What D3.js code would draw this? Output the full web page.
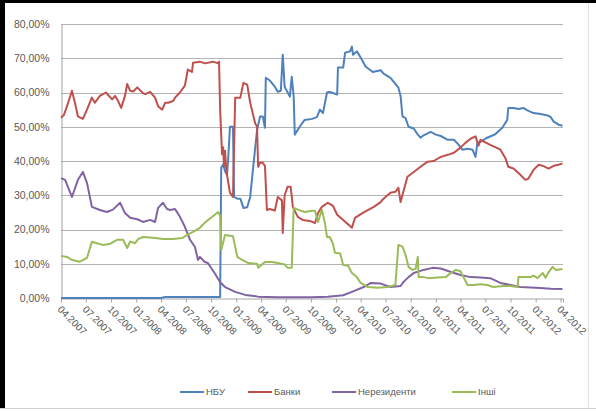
<!DOCTYPE html>
<html>
<head>
<meta charset="utf-8">
<script src="https://cdn.jsdelivr.net/npm/d3@7"></script>
<style>
  html, body { margin: 0; padding: 0; background: #fff; }
  svg { display: block; }
  text { font-family: "Liberation Sans", Arial, sans-serif; fill: #595959; }
</style>
</head>
<body>
<svg id="chart" width="596" height="411"></svg>
<script>
// Структура власників ОВДП, частка у %
const seriesNames = ["НБУ", "Банки", "Нерезиденти", "Інші"];
const seriesColors = ["#4F81BD", "#C0504D", "#8064A2", "#9BBB59"];

const yTicks = [0, 10, 20, 30, 40, 50, 60, 70, 80];
const xTickLabels = ["04.2007","07.2007","10.2007","01.2008","04.2008","07.2008","10.2008",
  "01.2009","04.2009","07.2009","10.2009","01.2010","04.2010","07.2010","10.2010",
  "01.2011","04.2011","07.2011","10.2011","01.2012","04.2012"];

const nbu = [
  ["2007-04-01",0],["2008-04-01",0],["2008-04-16",0.3],["2008-11-03",0.3],["2008-11-07",38],
  ["2008-11-14",39],["2008-11-21",37],["2008-11-28",36],["2008-12-02",40],["2008-12-09",50],
  ["2008-12-20",50],["2008-12-24",29.5],["2009-01-05",29],["2009-01-16",29],["2009-01-27",26.3],
  ["2009-02-10",26.5],["2009-02-21",29.5],["2009-03-04",38.3],["2009-03-18",49],["2009-03-29",53],
  ["2009-04-08",53],["2009-04-16",49.7],["2009-04-19",64.3],["2009-05-04",63.5],["2009-05-22",61.7],
  ["2009-06-02",60.2],["2009-06-13",60.5],["2009-06-20",71],["2009-06-27",61.7],["2009-07-16",58.8],
  ["2009-07-23",64.6],["2009-07-30",58.8],["2009-08-03",47.7],["2009-08-21",50],["2009-09-08",52],
  ["2009-10-05",52.3],["2009-10-23",52.8],["2009-11-03",55],["2009-11-14",54],["2009-11-29",60],
  ["2009-12-09",60.2],["2010-01-05",59.4],["2010-01-08",67.3],["2010-01-27",67.3],["2010-02-03",71.6],
  ["2010-02-21",72],["2010-02-28",73.4],["2010-03-04",71],["2010-03-18",72],["2010-04-01",70.2],
  ["2010-04-19",67.6],["2010-05-15",66],["2010-06-13",66.5],["2010-06-24",65.5],["2010-07-19",64.3],
  ["2010-08-17",61.4],["2010-08-25",59],["2010-09-01",53],["2010-09-12",52.5],["2010-09-23",50],
  ["2010-10-12",49.5],["2010-10-27",47.7],["2010-11-06",46.8],["2010-11-17",47.5],["2010-12-13",48.5],
  ["2011-01-01",47.7],["2011-01-19",47.3],["2011-02-14",46.2],["2011-03-08",46.2],["2011-03-26",44.7],
  ["2011-04-08",43.3],["2011-04-27",43.6],["2011-05-15",43.3],["2011-05-26",41.2],["2011-06-02",45.3],
  ["2011-06-13",45.6],["2011-07-08",46.8],["2011-08-06",47.8],["2011-09-01",49.7],["2011-09-19",52],
  ["2011-09-23",55.5],["2011-10-12",55.5],["2011-10-30",55.2],["2011-11-17",55.5],["2011-12-02",54.8],
  ["2011-12-24",54],["2012-01-19",53.7],["2012-02-14",53.3],["2012-02-25",52.8],["2012-03-07",51.5],
  ["2012-03-25",50.6],["2012-04-08",50.3]
];

const banks = [
  ["2007-04-01",52.6],["2007-04-12",53.5],["2007-04-23",56],["2007-05-11",60.5],["2007-05-22",57],
  ["2007-06-02",53],["2007-06-20",52.3],["2007-07-05",55],["2007-07-23",58.5],["2007-08-03",57],
  ["2007-08-21",59],["2007-09-12",60],["2007-10-05",58],["2007-10-16",59],["2007-10-27",57.5],
  ["2007-11-07",55.5],["2007-11-21",59],["2007-11-29",62.5],["2007-12-10",60.5],["2007-12-21",60.3],
  ["2008-01-05",61.5],["2008-01-26",59.8],["2008-02-03",59.5],["2008-02-21",60.2],["2008-03-10",58.5],
  ["2008-03-21",56],["2008-04-05",55],["2008-04-16",57],["2008-04-27",57],["2008-05-15",57.5],
  ["2008-05-22",58.5],["2008-06-09",60],["2008-06-27",62],["2008-07-08",66.7],["2008-07-23",66],
  ["2008-07-27",68.7],["2008-08-21",69],["2008-09-08",68.5],["2008-10-08",69],["2008-10-27",68.5],
  ["2008-10-30",69],["2008-11-03",55],["2008-11-10",42],["2008-11-14",44],["2008-11-17",38.5],
  ["2008-11-21",43],["2008-11-25",38],["2008-11-28",36],["2008-12-09",30.7],["2008-12-20",29.5],
  ["2008-12-28",58.5],["2009-01-16",58.5],["2009-01-27",62.8],["2009-02-10",62.3],["2009-02-21",57],
  ["2009-03-11",51],["2009-03-18",50],["2009-03-22",38.3],["2009-03-29",39.5],["2009-04-08",39.5],
  ["2009-04-16",38.5],["2009-04-23",25.7],["2009-05-04",26],["2009-05-22",25.5],["2009-06-02",29.5],
  ["2009-06-17",28.5],["2009-06-20",19],["2009-06-27",30],["2009-07-08",32.5],["2009-07-19",32.5],
  ["2009-07-27",26.6],["2009-08-14",23.7],["2009-09-01",22.8],["2009-09-27",22.5],["2009-10-16",21.9],
  ["2009-10-27",24.8],["2009-11-10",26.6],["2009-12-02",27.8],["2009-12-20",27],["2010-01-05",24.3],
  ["2010-01-27",22.8],["2010-02-28",20.5],["2010-03-11",23.4],["2010-04-12",25],["2010-05-19",26.6],
  ["2010-06-13",28],["2010-06-20",28.7],["2010-07-08",30],["2010-07-19",30.7],["2010-08-06",31],
  ["2010-08-17",32.2],["2010-08-25",28],["2010-09-19",35.4],["2010-10-12",36.8],["2010-11-06",38.3],
  ["2010-12-02",39.8],["2010-12-24",40],["2011-01-19",41.2],["2011-02-14",41.8],["2011-03-08",42.4],
  ["2011-04-01",43.9],["2011-04-19",45.3],["2011-05-08",46.5],["2011-05-26",47.2],["2011-06-06",44.5],
  ["2011-06-13",46.2],["2011-07-19",44.7],["2011-08-25",43.3],["2011-09-12",40.9],["2011-09-23",38.3],
  ["2011-10-12",37.8],["2011-11-06",36],["2011-11-24",34.5],["2011-12-05",34.8],["2011-12-24",37.4],
  ["2012-01-12",38.9],["2012-01-30",38.5],["2012-02-17",37.8],["2012-03-07",38.6],["2012-03-25",38.9],
  ["2012-04-08",39.3]
];

const nonResidents = [
  ["2007-04-01",35],["2007-04-16",34.5],["2007-05-11",29.5],["2007-06-02",34.5],["2007-06-20",36.8],
  ["2007-07-05",33.6],["2007-07-23",26.6],["2007-08-21",25.7],["2007-09-16",25.1],["2007-10-08",25.8],
  ["2007-11-03",27.8],["2007-11-21",24.8],["2007-12-10",23.4],["2008-01-05",23],["2008-01-26",22.2],
  ["2008-02-21",22.8],["2008-03-10",22.2],["2008-03-21",26.3],["2008-04-08",27.8],["2008-04-23",26],
  ["2008-05-04",25.7],["2008-05-22",26],["2008-06-09",23.7],["2008-06-27",20.8],["2008-07-16",17],
  ["2008-08-03",14.9],["2008-08-14",11.1],["2008-08-21",12],["2008-09-08",10.5],["2008-09-19",10.2],
  ["2008-10-16",7],["2008-11-03",4.6],["2008-11-21",3.2],["2008-12-28",1.8],["2009-02-03",0.9],
  ["2009-03-22",0.4],["2009-06-01",0.2],["2009-10-01",0.2],["2009-12-02",0.4],["2010-01-27",0.8],
  ["2010-02-28",1.8],["2010-04-12",3.2],["2010-05-08",4.4],["2010-06-13",4.2],["2010-07-19",3.2],
  ["2010-08-25",3.5],["2010-09-05",4.7],["2010-09-23",6.1],["2010-10-12",7.3],["2010-11-17",8.2],
  ["2010-12-20",8.8],["2011-01-19",8.6],["2011-02-25",7.6],["2011-04-01",6.7],["2011-05-08",6.1],
  ["2011-06-13",6],["2011-07-19",5.8],["2011-08-25",4.4],["2011-10-01",3.8],["2011-11-06",3.2],
  ["2011-12-13",3.1],["2012-01-19",2.9],["2012-02-25",2.7],["2012-04-08",2.6]
];

const others = [
  ["2007-04-01",12.3],["2007-04-23",12],["2007-05-11",11.1],["2007-06-09",10.6],["2007-07-05",11.7],
  ["2007-07-23",16.4],["2007-08-10",16],["2007-08-31",15.5],["2007-09-27",15.8],["2007-10-23",17],
  ["2007-11-14",17],["2007-11-29",14.6],["2007-12-10",16.5],["2007-12-28",16],["2008-01-08",17.2],
  ["2008-01-26",17.8],["2008-03-03",17.6],["2008-04-08",17.2],["2008-05-15",17.2],["2008-06-17",17.5],
  ["2008-07-05",18.4],["2008-07-27",19.3],["2008-08-21",20.5],["2008-09-08",22],["2008-10-05",23.7],
  ["2008-10-27",25.1],["2008-11-03",24],["2008-11-07",14],["2008-11-21",18.4],["2008-12-20",18],
  ["2009-01-05",12],["2009-01-23",11.1],["2009-02-14",10.2],["2009-03-18",10],["2009-03-22",8.8],
  ["2009-04-16",10.5],["2009-05-11",10.5],["2009-06-02",10.2],["2009-06-27",9.8],["2009-07-08",8.8],
  ["2009-07-23",8.8],["2009-07-30",26.3],["2009-08-14",25.8],["2009-09-08",25.1],["2009-10-05",25.5],
  ["2009-10-16",25.5],["2009-10-27",22.2],["2009-11-10",25.8],["2009-11-21",22],["2009-11-29",17.8],
  ["2009-12-09",17.8],["2009-12-20",16],["2009-12-28",13.2],["2010-01-16",13],["2010-01-27",9.6],
  ["2010-02-14",9.4],["2010-02-28",7.3],["2010-03-18",6.1],["2010-04-01",4.4],["2010-04-27",3.2],
  ["2010-06-02",3],["2010-07-08",3.2],["2010-08-06",3.8],["2010-08-17",15.5],["2010-09-01",15],
  ["2010-09-12",12.6],["2010-09-23",9.1],["2010-10-08",8.2],["2010-10-19",8.5],["2010-10-27",12],
  ["2010-10-30",6.1],["2010-11-17",6.1],["2010-12-05",5.8],["2011-01-08",6],["2011-02-06",6.1],
  ["2011-02-25",7.3],["2011-03-15",8.2],["2011-04-01",7.8],["2011-04-12",6.1],["2011-04-27",3.8],
  ["2011-05-19",3.8],["2011-06-13",4],["2011-07-08",3.8],["2011-07-30",3.2],["2011-09-05",3.5],
  ["2011-10-01",3.5],["2011-10-27",3.2],["2011-10-30",6.1],["2011-12-13",6.1],["2011-12-24",6.5],
  ["2012-01-08",5.8],["2012-01-27",7.3],["2012-02-06",5.9],["2012-02-17",7.5],["2012-03-03",9.1],
  ["2012-03-14",8.2],["2012-04-08",8.5]
];

const seriesData = [nbu, banks, nonResidents, others];

const svg = d3.select("#chart");
const W = 596, H = 411;
const plot = { left: 61, right: 563, top: 24, bottom: 298 };
const parse = d3.timeParse("%Y-%m-%d");
const fmtTick = d3.timeFormat("%m.%Y");

// background and frame
svg.append("rect").attr("width", W).attr("height", H).attr("fill", "#fff");
svg.append("line").attr("x1", 588.5).attr("x2", 588.5).attr("y1", 3).attr("y2", 408)
  .attr("stroke", "#e0e0e0");
svg.append("line").attr("x1", 0).attr("x2", W).attr("y1", 408.5).attr("y2", 408.5)
  .attr("stroke", "#d0d0d0");
svg.append("rect").attr("x", 0).attr("y", 0).attr("width", W).attr("height", 3).attr("fill", "#000");
svg.append("rect").attr("x", 0).attr("y", 0).attr("width", 5).attr("height", 408).attr("fill", "#000");

const x = d3.scaleTime()
  .domain([parse("2007-04-01"), parse("2012-04-10")])
  .range([plot.left, plot.right]);
const y = d3.scaleLinear().domain([0, 80]).range([plot.bottom, plot.top]);

// horizontal gridlines
svg.append("g")
  .selectAll("line")
  .data(yTicks.filter(v => v > 0))
  .join("line")
  .attr("x1", plot.left).attr("x2", plot.right)
  .attr("y1", d => Math.round(y(d)) + 0.5).attr("y2", d => Math.round(y(d)) + 0.5)
  .attr("stroke", "#b3b3b3").attr("stroke-width", 1);

// y axis
const yAxis = svg.append("g")
  .attr("transform", `translate(${plot.left + 0.5},0)`)
  .call(d3.axisLeft(y).tickValues(yTicks).tickSize(0).tickPadding(12)
    .tickFormat(d => d.toFixed(2).replace(".", ",") + "%"));
yAxis.select(".domain").attr("stroke", "#a6a6a6");
yAxis.selectAll("text").attr("font-size", 10.5).attr("fill", "#595959")
  .style("font-family", "'Liberation Sans', Arial, sans-serif");

// x axis with quarterly ticks
const tickDates = xTickLabels.map(s => {
  const [m, yr] = s.split(".");
  return new Date(+yr, +m - 1, 1);
});
const xAxis = svg.append("g")
  .attr("transform", `translate(0,${plot.bottom + 0.5})`)
  .call(d3.axisBottom(x).tickValues(tickDates).tickSize(4).tickFormat(fmtTick));
xAxis.select(".domain").attr("stroke", "#a6a6a6");
xAxis.selectAll(".tick line").attr("stroke", "#a6a6a6");
xAxis.selectAll("text")
  .attr("font-size", 10).attr("fill", "#595959")
  .style("font-family", "'Liberation Sans', Arial, sans-serif")
  .attr("text-anchor", "start")
  .attr("x", 0).attr("y", 0).attr("dy", "0.35em")
  .attr("transform", "translate(-2,9) rotate(45)");

// series lines
const line = d3.line()
  .x(d => x(parse(d[0])))
  .y(d => y(d[1]));

svg.append("g")
  .selectAll("path")
  .data(seriesData)
  .join("path")
  .attr("d", d => line(d))
  .attr("fill", "none")
  .attr("stroke", (d, i) => seriesColors[i])
  .attr("stroke-width", 2)
  .attr("stroke-linejoin", "round");

// legend
const legendX = [180, 248, 332, 452];
const legend = svg.append("g").selectAll("g")
  .data(seriesNames)
  .join("g")
  .attr("transform", (d, i) => `translate(${legendX[i]},392)`);
legend.append("line")
  .attr("x1", 0).attr("x2", 24).attr("y1", 0).attr("y2", 0)
  .attr("stroke", (d, i) => seriesColors[i]).attr("stroke-width", 2);
legend.append("text")
  .attr("x", 26).attr("y", 0).attr("dy", "0.35em")
  .attr("font-size", 9.5)
  .text(d => d);
</script>
</body>
</html>
